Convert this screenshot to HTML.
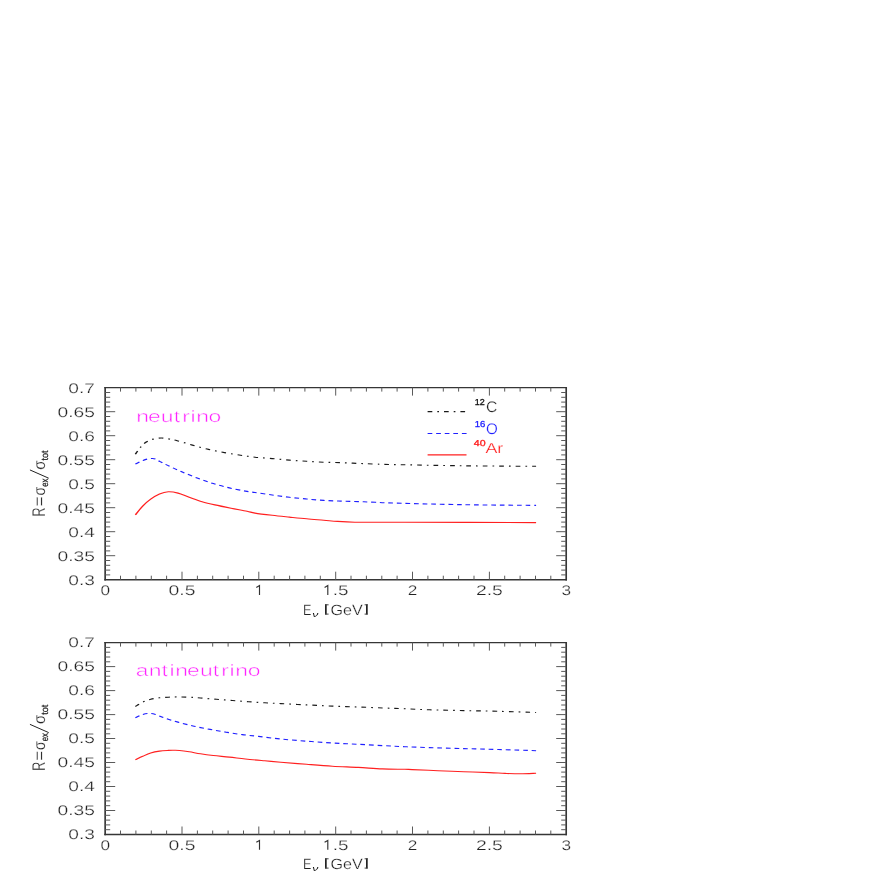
<!DOCTYPE html>
<html><head><meta charset="utf-8"><title>plot</title>
<style>
html,body{margin:0;padding:0;background:#fff;}
svg{display:block;font-family:"Liberation Sans",sans-serif;will-change:transform;}
text{stroke:#fff;stroke-width:0.25px;paint-order:fill stroke;text-rendering:geometricPrecision;}
</style></head>
<body>
<svg width="872" height="872" viewBox="0 0 872 872">
<rect width="872" height="872" fill="#fff"/>
<path d="M104.35 387.65 H567.00 M104.35 579.70 H567.00" fill="none" stroke="#363636" stroke-width="1.4"/>
<path d="M105.15 386.95 V580.40 M566.20 386.95 V580.40" fill="none" stroke="#363636" stroke-width="1.65"/>
<path d="M120.5 387.6 v4.0 M120.5 579.7 v-4.0 M135.9 387.6 v4.0 M135.9 579.7 v-4.0 M151.3 387.6 v4.0 M151.3 579.7 v-4.0 M166.6 387.6 v4.0 M166.6 579.7 v-4.0 M182.0 387.6 v8.0 M182.0 579.7 v-8.0 M197.4 387.6 v4.0 M197.4 579.7 v-4.0 M212.7 387.6 v4.0 M212.7 579.7 v-4.0 M228.1 387.6 v4.0 M228.1 579.7 v-4.0 M243.5 387.6 v4.0 M243.5 579.7 v-4.0 M258.8 387.6 v8.0 M258.8 579.7 v-8.0 M274.2 387.6 v4.0 M274.2 579.7 v-4.0 M289.6 387.6 v4.0 M289.6 579.7 v-4.0 M304.9 387.6 v4.0 M304.9 579.7 v-4.0 M320.3 387.6 v4.0 M320.3 579.7 v-4.0 M335.7 387.6 v8.0 M335.7 579.7 v-8.0 M351.0 387.6 v4.0 M351.0 579.7 v-4.0 M366.4 387.6 v4.0 M366.4 579.7 v-4.0 M381.8 387.6 v4.0 M381.8 579.7 v-4.0 M397.1 387.6 v4.0 M397.1 579.7 v-4.0 M412.5 387.6 v8.0 M412.5 579.7 v-8.0 M427.9 387.6 v4.0 M427.9 579.7 v-4.0 M443.3 387.6 v4.0 M443.3 579.7 v-4.0 M458.6 387.6 v4.0 M458.6 579.7 v-4.0 M474.0 387.6 v4.0 M474.0 579.7 v-4.0 M489.4 387.6 v8.0 M489.4 579.7 v-8.0 M504.7 387.6 v4.0 M504.7 579.7 v-4.0 M520.1 387.6 v4.0 M520.1 579.7 v-4.0 M535.5 387.6 v4.0 M535.5 579.7 v-4.0 M550.8 387.6 v4.0 M550.8 579.7 v-4.0 M105.2 392.5 h5.0 M566.2 392.5 h-5.0 M105.2 397.3 h5.0 M566.2 397.3 h-5.0 M105.2 402.1 h5.0 M566.2 402.1 h-5.0 M105.2 406.9 h5.0 M566.2 406.9 h-5.0 M105.2 411.7 h10.0 M566.2 411.7 h-10.0 M105.2 416.5 h5.0 M566.2 416.5 h-5.0 M105.2 421.3 h5.0 M566.2 421.3 h-5.0 M105.2 426.1 h5.0 M566.2 426.1 h-5.0 M105.2 430.9 h5.0 M566.2 430.9 h-5.0 M105.2 435.7 h10.0 M566.2 435.7 h-10.0 M105.2 440.5 h5.0 M566.2 440.5 h-5.0 M105.2 445.3 h5.0 M566.2 445.3 h-5.0 M105.2 450.1 h5.0 M566.2 450.1 h-5.0 M105.2 454.9 h5.0 M566.2 454.9 h-5.0 M105.2 459.7 h10.0 M566.2 459.7 h-10.0 M105.2 464.5 h5.0 M566.2 464.5 h-5.0 M105.2 469.3 h5.0 M566.2 469.3 h-5.0 M105.2 474.1 h5.0 M566.2 474.1 h-5.0 M105.2 478.9 h5.0 M566.2 478.9 h-5.0 M105.2 483.7 h10.0 M566.2 483.7 h-10.0 M105.2 488.5 h5.0 M566.2 488.5 h-5.0 M105.2 493.3 h5.0 M566.2 493.3 h-5.0 M105.2 498.1 h5.0 M566.2 498.1 h-5.0 M105.2 502.9 h5.0 M566.2 502.9 h-5.0 M105.2 507.7 h10.0 M566.2 507.7 h-10.0 M105.2 512.5 h5.0 M566.2 512.5 h-5.0 M105.2 517.3 h5.0 M566.2 517.3 h-5.0 M105.2 522.1 h5.0 M566.2 522.1 h-5.0 M105.2 526.9 h5.0 M566.2 526.9 h-5.0 M105.2 531.7 h10.0 M566.2 531.7 h-10.0 M105.2 536.5 h5.0 M566.2 536.5 h-5.0 M105.2 541.3 h5.0 M566.2 541.3 h-5.0 M105.2 546.1 h5.0 M566.2 546.1 h-5.0 M105.2 550.9 h5.0 M566.2 550.9 h-5.0 M105.2 555.7 h10.0 M566.2 555.7 h-10.0 M105.2 560.5 h5.0 M566.2 560.5 h-5.0 M105.2 565.3 h5.0 M566.2 565.3 h-5.0 M105.2 570.1 h5.0 M566.2 570.1 h-5.0 M105.2 574.9 h5.0 M566.2 574.9 h-5.0 " stroke="#5a5a5a" stroke-width="1" fill="none"/>
<text x="68.3" y="392.6" font-size="14.0" fill="#222" textLength="26.6" lengthAdjust="spacingAndGlyphs" >0.7</text>
<text x="57.5" y="416.7" font-size="14.0" fill="#222" textLength="37.4" lengthAdjust="spacingAndGlyphs" >0.65</text>
<text x="68.3" y="440.7" font-size="14.0" fill="#222" textLength="26.6" lengthAdjust="spacingAndGlyphs" >0.6</text>
<text x="57.5" y="464.7" font-size="14.0" fill="#222" textLength="37.4" lengthAdjust="spacingAndGlyphs" >0.55</text>
<text x="68.3" y="488.7" font-size="14.0" fill="#222" textLength="26.6" lengthAdjust="spacingAndGlyphs" >0.5</text>
<text x="57.5" y="512.7" font-size="14.0" fill="#222" textLength="37.4" lengthAdjust="spacingAndGlyphs" >0.45</text>
<text x="68.3" y="536.7" font-size="14.0" fill="#222" textLength="26.6" lengthAdjust="spacingAndGlyphs" >0.4</text>
<text x="57.5" y="560.7" font-size="14.0" fill="#222" textLength="37.4" lengthAdjust="spacingAndGlyphs" >0.35</text>
<text x="68.3" y="584.7" font-size="14.0" fill="#222" textLength="26.6" lengthAdjust="spacingAndGlyphs" >0.3</text>
<text x="100.4" y="595.1" font-size="14.0" fill="#222" textLength="9.6" lengthAdjust="spacingAndGlyphs" >0</text>
<text x="168.5" y="595.1" font-size="14.0" fill="#222" textLength="27.0" lengthAdjust="spacingAndGlyphs" >0.5</text>
<path d="M256.3 587.5 L259.5 585.6 V595.0" stroke="#333" stroke-width="1.15" fill="none" stroke-linejoin="miter"/>
<path d="M324.6 587.5 L327.8 585.6 V595.0" stroke="#333" stroke-width="1.15" fill="none" stroke-linejoin="miter"/>
<text x="332.8" y="595.1" font-size="14.0" fill="#222" textLength="15.8" lengthAdjust="spacingAndGlyphs" >.5</text>
<text x="407.7" y="595.1" font-size="14.0" fill="#222" textLength="9.6" lengthAdjust="spacingAndGlyphs" >2</text>
<text x="475.9" y="595.1" font-size="14.0" fill="#222" textLength="27.0" lengthAdjust="spacingAndGlyphs" >2.5</text>
<text x="561.4" y="595.1" font-size="14.0" fill="#222" textLength="9.6" lengthAdjust="spacingAndGlyphs" >3</text>
<path d="M104.35 642.60 H567.00 M104.35 834.50 H567.00" fill="none" stroke="#363636" stroke-width="1.4"/>
<path d="M105.15 641.90 V835.20 M566.20 641.90 V835.20" fill="none" stroke="#363636" stroke-width="1.65"/>
<path d="M120.5 642.6 v4.0 M120.5 834.5 v-4.0 M135.9 642.6 v4.0 M135.9 834.5 v-4.0 M151.3 642.6 v4.0 M151.3 834.5 v-4.0 M166.6 642.6 v4.0 M166.6 834.5 v-4.0 M182.0 642.6 v8.0 M182.0 834.5 v-8.0 M197.4 642.6 v4.0 M197.4 834.5 v-4.0 M212.7 642.6 v4.0 M212.7 834.5 v-4.0 M228.1 642.6 v4.0 M228.1 834.5 v-4.0 M243.5 642.6 v4.0 M243.5 834.5 v-4.0 M258.8 642.6 v8.0 M258.8 834.5 v-8.0 M274.2 642.6 v4.0 M274.2 834.5 v-4.0 M289.6 642.6 v4.0 M289.6 834.5 v-4.0 M304.9 642.6 v4.0 M304.9 834.5 v-4.0 M320.3 642.6 v4.0 M320.3 834.5 v-4.0 M335.7 642.6 v8.0 M335.7 834.5 v-8.0 M351.0 642.6 v4.0 M351.0 834.5 v-4.0 M366.4 642.6 v4.0 M366.4 834.5 v-4.0 M381.8 642.6 v4.0 M381.8 834.5 v-4.0 M397.1 642.6 v4.0 M397.1 834.5 v-4.0 M412.5 642.6 v8.0 M412.5 834.5 v-8.0 M427.9 642.6 v4.0 M427.9 834.5 v-4.0 M443.3 642.6 v4.0 M443.3 834.5 v-4.0 M458.6 642.6 v4.0 M458.6 834.5 v-4.0 M474.0 642.6 v4.0 M474.0 834.5 v-4.0 M489.4 642.6 v8.0 M489.4 834.5 v-8.0 M504.7 642.6 v4.0 M504.7 834.5 v-4.0 M520.1 642.6 v4.0 M520.1 834.5 v-4.0 M535.5 642.6 v4.0 M535.5 834.5 v-4.0 M550.8 642.6 v4.0 M550.8 834.5 v-4.0 M105.2 647.4 h5.0 M566.2 647.4 h-5.0 M105.2 652.2 h5.0 M566.2 652.2 h-5.0 M105.2 657.0 h5.0 M566.2 657.0 h-5.0 M105.2 661.8 h5.0 M566.2 661.8 h-5.0 M105.2 666.6 h10.0 M566.2 666.6 h-10.0 M105.2 671.4 h5.0 M566.2 671.4 h-5.0 M105.2 676.2 h5.0 M566.2 676.2 h-5.0 M105.2 681.0 h5.0 M566.2 681.0 h-5.0 M105.2 685.8 h5.0 M566.2 685.8 h-5.0 M105.2 690.6 h10.0 M566.2 690.6 h-10.0 M105.2 695.4 h5.0 M566.2 695.4 h-5.0 M105.2 700.2 h5.0 M566.2 700.2 h-5.0 M105.2 705.0 h5.0 M566.2 705.0 h-5.0 M105.2 709.8 h5.0 M566.2 709.8 h-5.0 M105.2 714.6 h10.0 M566.2 714.6 h-10.0 M105.2 719.4 h5.0 M566.2 719.4 h-5.0 M105.2 724.2 h5.0 M566.2 724.2 h-5.0 M105.2 729.0 h5.0 M566.2 729.0 h-5.0 M105.2 733.8 h5.0 M566.2 733.8 h-5.0 M105.2 738.5 h10.0 M566.2 738.5 h-10.0 M105.2 743.3 h5.0 M566.2 743.3 h-5.0 M105.2 748.1 h5.0 M566.2 748.1 h-5.0 M105.2 752.9 h5.0 M566.2 752.9 h-5.0 M105.2 757.7 h5.0 M566.2 757.7 h-5.0 M105.2 762.5 h10.0 M566.2 762.5 h-10.0 M105.2 767.3 h5.0 M566.2 767.3 h-5.0 M105.2 772.1 h5.0 M566.2 772.1 h-5.0 M105.2 776.9 h5.0 M566.2 776.9 h-5.0 M105.2 781.7 h5.0 M566.2 781.7 h-5.0 M105.2 786.5 h10.0 M566.2 786.5 h-10.0 M105.2 791.3 h5.0 M566.2 791.3 h-5.0 M105.2 796.1 h5.0 M566.2 796.1 h-5.0 M105.2 800.9 h5.0 M566.2 800.9 h-5.0 M105.2 805.7 h5.0 M566.2 805.7 h-5.0 M105.2 810.5 h10.0 M566.2 810.5 h-10.0 M105.2 815.3 h5.0 M566.2 815.3 h-5.0 M105.2 820.1 h5.0 M566.2 820.1 h-5.0 M105.2 824.9 h5.0 M566.2 824.9 h-5.0 M105.2 829.7 h5.0 M566.2 829.7 h-5.0 " stroke="#5a5a5a" stroke-width="1" fill="none"/>
<text x="68.3" y="646.8" font-size="14.0" fill="#222" textLength="26.6" lengthAdjust="spacingAndGlyphs" >0.7</text>
<text x="57.5" y="670.7" font-size="14.0" fill="#222" textLength="37.4" lengthAdjust="spacingAndGlyphs" >0.65</text>
<text x="68.3" y="694.7" font-size="14.0" fill="#222" textLength="26.6" lengthAdjust="spacingAndGlyphs" >0.6</text>
<text x="57.5" y="718.7" font-size="14.0" fill="#222" textLength="37.4" lengthAdjust="spacingAndGlyphs" >0.55</text>
<text x="68.3" y="742.7" font-size="14.0" fill="#222" textLength="26.6" lengthAdjust="spacingAndGlyphs" >0.5</text>
<text x="57.5" y="766.7" font-size="14.0" fill="#222" textLength="37.4" lengthAdjust="spacingAndGlyphs" >0.45</text>
<text x="68.3" y="790.7" font-size="14.0" fill="#222" textLength="26.6" lengthAdjust="spacingAndGlyphs" >0.4</text>
<text x="57.5" y="814.7" font-size="14.0" fill="#222" textLength="37.4" lengthAdjust="spacingAndGlyphs" >0.35</text>
<text x="68.3" y="838.6" font-size="14.0" fill="#222" textLength="26.6" lengthAdjust="spacingAndGlyphs" >0.3</text>
<text x="100.4" y="849.9" font-size="14.0" fill="#222" textLength="9.6" lengthAdjust="spacingAndGlyphs" >0</text>
<text x="168.5" y="849.9" font-size="14.0" fill="#222" textLength="27.0" lengthAdjust="spacingAndGlyphs" >0.5</text>
<path d="M256.3 842.3 L259.5 840.4 V849.8" stroke="#333" stroke-width="1.15" fill="none" stroke-linejoin="miter"/>
<path d="M324.6 842.3 L327.8 840.4 V849.8" stroke="#333" stroke-width="1.15" fill="none" stroke-linejoin="miter"/>
<text x="332.8" y="849.9" font-size="14.0" fill="#222" textLength="15.8" lengthAdjust="spacingAndGlyphs" >.5</text>
<text x="407.7" y="849.9" font-size="14.0" fill="#222" textLength="9.6" lengthAdjust="spacingAndGlyphs" >2</text>
<text x="475.9" y="849.9" font-size="14.0" fill="#222" textLength="27.0" lengthAdjust="spacingAndGlyphs" >2.5</text>
<text x="561.4" y="849.9" font-size="14.0" fill="#222" textLength="9.6" lengthAdjust="spacingAndGlyphs" >3</text>
<g transform="scale(1.300 1)">
<path d="M104.15 454.20 C104.78 453.08 106.58 449.48 107.92 447.50 C109.27 445.52 110.59 443.70 112.23 442.30 C113.87 440.90 115.82 439.82 117.77 439.10 C119.72 438.38 121.87 438.02 123.92 438.00 C125.97 437.98 128.01 438.55 130.08 439.00 C132.14 439.45 133.32 439.68 136.31 440.70 C139.29 441.72 143.99 443.65 148.00 445.10 C152.01 446.55 156.27 448.15 160.38 449.40 C164.50 450.65 168.58 451.63 172.69 452.60 C176.81 453.57 181.17 454.43 185.08 455.20 C188.99 455.97 192.10 456.63 196.15 457.20 C200.21 457.77 204.97 458.12 209.38 458.60 C213.79 459.08 218.21 459.65 222.62 460.10 C227.03 460.55 231.44 460.95 235.85 461.30 C240.26 461.65 244.67 461.97 249.08 462.20 C253.49 462.43 257.90 462.50 262.31 462.70 C266.72 462.90 271.13 463.17 275.54 463.40 C279.95 463.63 284.05 463.90 288.77 464.10 C293.49 464.30 292.51 464.32 303.85 464.60 C315.18 464.88 338.68 465.52 356.77 465.80 C374.86 466.08 403.12 466.22 412.38 466.30" fill="none" stroke-width="1.12" stroke="#1a1a1a" stroke-dasharray="3.615 3.846 1.308 3.846"/>
<path d="M104.15 464.00 C105.13 463.42 108.41 461.33 110.00 460.50 C111.59 459.67 112.47 459.33 113.69 459.00 C114.91 458.67 116.19 458.42 117.31 458.50 C118.42 458.58 119.41 458.98 120.38 459.50 C121.36 460.02 121.72 460.62 123.15 461.60 C124.59 462.58 126.29 463.73 129.00 465.40 C131.71 467.07 135.60 469.50 139.38 471.60 C143.17 473.70 147.58 476.00 151.69 478.00 C155.81 480.00 159.95 481.95 164.08 483.60 C168.21 485.25 172.35 486.65 176.46 487.90 C180.58 489.15 185.49 490.33 188.77 491.10 C192.05 491.87 192.72 491.85 196.15 492.50 C199.59 493.15 204.97 494.20 209.38 495.00 C213.79 495.80 218.21 496.63 222.62 497.30 C227.03 497.97 231.44 498.48 235.85 499.00 C240.26 499.52 244.67 500.05 249.08 500.40 C253.49 500.75 257.90 500.90 262.31 501.10 C266.72 501.30 271.13 501.40 275.54 501.60 C279.95 501.80 284.05 502.05 288.77 502.30 C293.49 502.55 292.51 502.70 303.85 503.10 C315.18 503.50 338.68 504.32 356.77 504.70 C374.86 505.08 403.12 505.28 412.38 505.40" fill="none" stroke-width="1.12" stroke="#2020ff" stroke-dasharray="3.615 2.977"/>
<path d="M104.15 514.90 C105.09 513.43 107.81 508.72 109.77 506.10 C111.73 503.48 113.77 501.22 115.92 499.20 C118.08 497.18 120.44 495.23 122.69 494.00 C124.95 492.77 127.09 491.95 129.46 491.80 C131.83 491.65 134.24 492.20 136.92 493.10 C139.60 494.00 142.45 495.77 145.54 497.20 C148.63 498.63 152.17 500.42 155.46 501.70 C158.76 502.98 161.60 503.82 165.31 504.90 C169.01 505.98 173.58 507.15 177.69 508.20 C181.81 509.25 186.92 510.38 190.00 511.20 C193.08 512.02 192.92 512.42 196.15 513.10 C199.38 513.78 204.97 514.63 209.38 515.30 C213.79 515.97 218.21 516.52 222.62 517.10 C227.03 517.68 231.44 518.28 235.85 518.80 C240.26 519.32 245.10 519.77 249.08 520.20 C253.05 520.63 255.72 521.07 259.69 521.40 C263.67 521.73 268.08 522.07 272.92 522.20 C277.77 522.33 282.37 522.20 288.77 522.20 C295.17 522.20 290.71 522.13 311.31 522.20 C331.91 522.27 395.54 522.53 412.38 522.60" fill="none" stroke-width="1.12" stroke="#ff2020" />
<path d="M104.15 706.50 C105.09 705.78 107.81 703.40 109.77 702.20 C111.73 701.00 113.77 700.03 115.92 699.30 C118.08 698.57 120.44 698.15 122.69 697.80 C124.95 697.45 127.09 697.35 129.46 697.20 C131.83 697.05 134.24 696.90 136.92 696.90 C139.60 696.90 142.65 697.02 145.54 697.20 C148.42 697.38 150.73 697.65 154.23 698.00 C157.73 698.35 162.42 698.88 166.54 699.30 C170.65 699.72 174.81 700.10 178.92 700.50 C183.04 700.90 187.12 701.32 191.23 701.70 C195.35 702.08 199.49 702.48 203.62 702.80 C207.74 703.12 210.63 703.25 216.00 703.60 C221.37 703.95 229.23 704.48 235.85 704.90 C242.46 705.32 249.08 705.75 255.69 706.10 C262.31 706.45 268.92 706.68 275.54 707.00 C282.15 707.32 289.42 707.72 295.38 708.00 C301.35 708.28 305.49 708.40 311.31 708.70 C317.13 709.00 322.73 709.48 330.31 709.80 C337.88 710.12 347.95 710.35 356.77 710.60 C365.59 710.85 373.96 710.98 383.23 711.30 C392.50 711.62 407.53 712.30 412.38 712.50" fill="none" stroke-width="1.12" stroke="#1a1a1a" stroke-dasharray="3.615 3.846 1.308 3.846"/>
<path d="M104.15 717.70 C105.09 717.17 108.01 715.22 109.77 714.50 C111.53 713.78 113.05 713.40 114.69 713.40 C116.33 713.40 117.56 713.70 119.62 714.50 C121.67 715.30 124.12 716.93 127.00 718.20 C129.88 719.47 133.22 720.77 136.92 722.10 C140.63 723.43 145.12 724.98 149.23 726.20 C153.35 727.42 157.50 728.40 161.62 729.40 C165.73 730.40 169.81 731.33 173.92 732.20 C178.04 733.07 182.17 733.90 186.31 734.60 C190.45 735.30 193.82 735.67 198.77 736.40 C203.72 737.13 209.82 738.20 216.00 739.00 C222.18 739.80 229.23 740.53 235.85 741.20 C242.46 741.87 249.08 742.48 255.69 743.00 C262.31 743.52 268.92 743.85 275.54 744.30 C282.15 744.75 289.42 745.30 295.38 745.70 C301.35 746.10 305.49 746.38 311.31 746.70 C317.13 747.02 322.73 747.28 330.31 747.60 C337.88 747.92 347.95 748.28 356.77 748.60 C365.59 748.92 373.96 749.15 383.23 749.50 C392.50 749.85 407.53 750.50 412.38 750.70" fill="none" stroke-width="1.12" stroke="#2020ff" stroke-dasharray="3.615 2.977"/>
<path d="M104.15 759.80 C105.09 759.22 107.81 757.43 109.77 756.30 C111.73 755.17 113.77 753.87 115.92 753.00 C118.08 752.13 120.44 751.53 122.69 751.10 C124.95 750.67 127.60 750.53 129.46 750.40 C131.32 750.27 132.40 750.28 133.85 750.30 C135.29 750.32 136.21 750.25 138.15 750.50 C140.10 750.75 142.86 751.25 145.54 751.80 C148.22 752.35 151.14 753.18 154.23 753.80 C157.32 754.42 160.37 754.95 164.08 755.50 C167.78 756.05 172.35 756.52 176.46 757.10 C180.58 757.68 184.24 758.38 188.77 759.00 C193.29 759.62 199.08 760.27 203.62 760.80 C208.15 761.33 210.63 761.62 216.00 762.20 C221.37 762.78 229.23 763.63 235.85 764.30 C242.46 764.97 249.08 765.68 255.69 766.20 C262.31 766.72 269.14 766.95 275.54 767.40 C281.94 767.85 288.12 768.58 294.08 768.90 C300.04 769.22 307.47 769.18 311.31 769.30 C315.14 769.42 312.81 769.37 317.08 769.60 C321.35 769.83 330.31 770.35 336.92 770.70 C343.54 771.05 350.15 771.38 356.77 771.70 C363.38 772.02 371.32 772.32 376.62 772.60 C381.91 772.88 384.56 773.20 388.54 773.40 C392.51 773.60 396.49 773.83 400.46 773.80 C404.44 773.77 410.40 773.30 412.38 773.20" fill="none" stroke-width="1.12" stroke="#ff2020" />
</g>
<path d="M427.6 411.6 H466.4" fill="none" stroke-width="1.1" stroke="#1a1a1a" stroke-dasharray="4.7 5.0 1.7 5.0"/>
<path d="M427.6 433.5 H466.7" fill="none" stroke-width="1.1" stroke="#2020ff" stroke-dasharray="4.7 3.87"/>
<path d="M427.6 454.9 H466.5" fill="none" stroke-width="1.1" stroke="#ff2020"/>
<text x="474.8" y="405.1" font-size="8.6" fill="#111" textLength="10.0" lengthAdjust="spacingAndGlyphs" style="stroke:#111;stroke-width:0.3px">12</text>
<text x="486.0" y="411.9" font-size="15.4" fill="#222" textLength="11.4" lengthAdjust="spacingAndGlyphs" >C</text>
<text x="474.8" y="426.5" font-size="8.6" fill="#2020ff" textLength="10.6" lengthAdjust="spacingAndGlyphs" style="stroke:#2020ff;stroke-width:0.3px">16</text>
<text x="486.0" y="433.9" font-size="15.3" fill="#2020ff" textLength="11.8" lengthAdjust="spacingAndGlyphs" >O</text>
<text x="473.8" y="445.9" font-size="8.6" fill="#ff2020" textLength="11.8" lengthAdjust="spacingAndGlyphs" style="stroke:#ff2020;stroke-width:0.3px">40</text>
<text x="485.4" y="452.9" font-size="14.4" fill="#ff2020" textLength="17.8" lengthAdjust="spacingAndGlyphs" >Ar</text>
<g transform="scale(1.380 1)"><text x="98.69 107.34 116.55 125.95 132.01 138.05 142.24 151.15" y="421.7" font-size="16.6" fill="#ff22ff" style="stroke-width:0.45px">neutrino</text></g>
<g transform="scale(1.380 1)"><text x="98.45 107.82 116.96 122.91 126.98 135.57 144.88 154.14 160.30 166.32 170.50 179.55" y="676.1" font-size="16.6" fill="#ff22ff" style="stroke-width:0.45px">antineutrino</text></g>
<text x="302.9" y="614.6" font-size="14.8" fill="#222" textLength="8.4" lengthAdjust="spacingAndGlyphs" >E</text>
<text x="312.2" y="616.8" font-size="7.7" fill="#111" textLength="6.1" lengthAdjust="spacingAndGlyphs" font-style="italic" style="stroke:none">&#957;</text>
<text x="330.5" y="614.6" font-size="14.8" fill="#222" textLength="32.2" lengthAdjust="spacingAndGlyphs" >GeV</text>
<path d="M325.85 604.3 V614.6 M366.85 604.3 V614.6" stroke="#222" stroke-width="1.7" fill="none"/>
<path d="M325 604.8 H328.6 M325 614.1 H328.6 M364.6 604.8 H367.7 M364.6 614.1 H367.7" stroke="#444" stroke-width="1" fill="none"/>
<text x="302.9" y="868.6" font-size="14.8" fill="#222" textLength="8.4" lengthAdjust="spacingAndGlyphs" >E</text>
<text x="312.2" y="870.8" font-size="7.7" fill="#111" textLength="6.1" lengthAdjust="spacingAndGlyphs" font-style="italic" style="stroke:none">&#957;</text>
<text x="330.5" y="868.6" font-size="14.8" fill="#222" textLength="32.2" lengthAdjust="spacingAndGlyphs" >GeV</text>
<path d="M325.85 858.3 V868.6 M366.85 858.3 V868.6" stroke="#222" stroke-width="1.7" fill="none"/>
<path d="M325 858.8 H328.6 M325 868.1 H328.6 M364.6 858.8 H367.7 M364.6 868.1 H367.7" stroke="#444" stroke-width="1" fill="none"/>
<g transform="translate(44.7 515.7) rotate(-90)">
<text x="-0.7" y="0.0" font-size="18.4" fill="#222" textLength="9.0" lengthAdjust="spacingAndGlyphs" >R</text>
<text x="9.4" y="0.4" font-size="17.0" fill="#222" textLength="9.8" lengthAdjust="spacingAndGlyphs" >=</text>
<text x="20.2" y="0.0" font-size="16.5" fill="#222" textLength="8.7" lengthAdjust="spacingAndGlyphs" >&#963;</text>
<text x="28.9" y="3.5" font-size="9.8" fill="#1a1a1a" textLength="8.2" lengthAdjust="spacingAndGlyphs" style="stroke:#1a1a1a;stroke-width:0.25px">ex</text>
<path d="M37.5 4.0 L45.75 -14.75" stroke="#222" stroke-width="1.0" fill="none"/>
<text x="46.0" y="0.0" font-size="16.5" fill="#222" textLength="9.2" lengthAdjust="spacingAndGlyphs" >&#963;</text>
<text x="55.3" y="3.5" font-size="9.6" fill="#1a1a1a" textLength="10.0" lengthAdjust="spacingAndGlyphs" style="stroke:#1a1a1a;stroke-width:0.25px">tot</text>
</g>
<g transform="translate(44.7 770.1) rotate(-90)">
<text x="-0.7" y="0.0" font-size="18.4" fill="#222" textLength="9.0" lengthAdjust="spacingAndGlyphs" >R</text>
<text x="9.4" y="0.4" font-size="17.0" fill="#222" textLength="9.8" lengthAdjust="spacingAndGlyphs" >=</text>
<text x="20.2" y="0.0" font-size="16.5" fill="#222" textLength="8.7" lengthAdjust="spacingAndGlyphs" >&#963;</text>
<text x="28.9" y="3.5" font-size="9.8" fill="#1a1a1a" textLength="8.2" lengthAdjust="spacingAndGlyphs" style="stroke:#1a1a1a;stroke-width:0.25px">ex</text>
<path d="M37.5 4.0 L45.75 -14.75" stroke="#222" stroke-width="1.0" fill="none"/>
<text x="46.0" y="0.0" font-size="16.5" fill="#222" textLength="9.2" lengthAdjust="spacingAndGlyphs" >&#963;</text>
<text x="55.3" y="3.5" font-size="9.6" fill="#1a1a1a" textLength="10.0" lengthAdjust="spacingAndGlyphs" style="stroke:#1a1a1a;stroke-width:0.25px">tot</text>
</g>
</svg>
</body></html>
